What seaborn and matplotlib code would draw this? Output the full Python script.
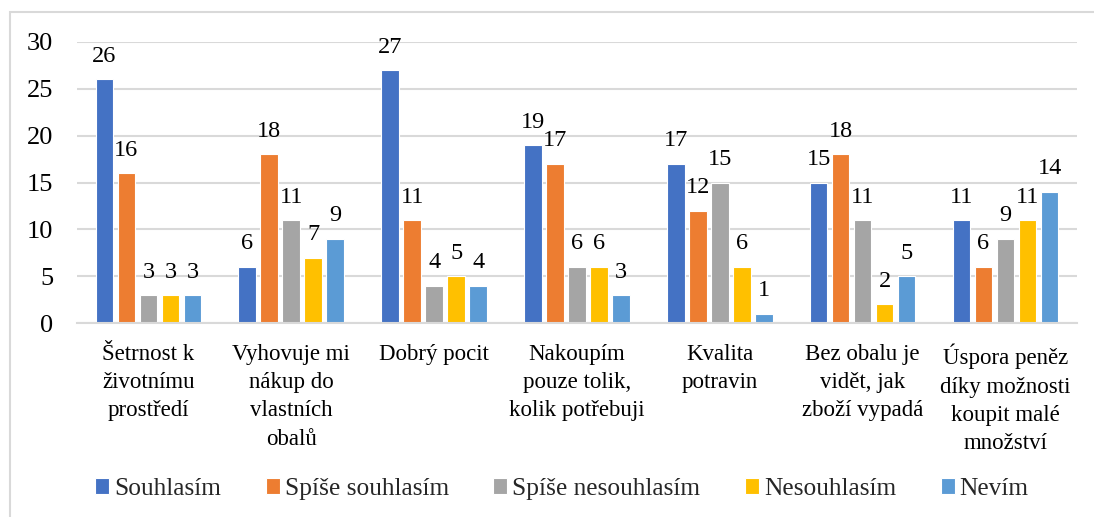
import pandas as pd
import matplotlib.pyplot as plt
import matplotlib.patches as mpatches
import seaborn as sns

# Data
categories = [
    "Šetrnost k\nživotnímu\nprostředí",
    "Vyhovuje mi\nnákup do\nvlastních\nobalů",
    "Dobrý pocit",
    "Nakoupím\npouze tolik,\nkolik potřebuji",
    "Kvalita\npotravin",
    "Bez obalu je\nvidět, jak\nzboží vypadá",
    "Úspora peněz\ndíky možnosti\nkoupit malé\nmnožství",
]
answers = ["Souhlasím", "Spíše souhlasím", "Spíše nesouhlasím", "Nesouhlasím", "Nevím"]
souhlasim = [26, 6, 27, 19, 17, 15, 11]
spise_souhlasim = [16, 18, 11, 17, 12, 18, 6]
spise_nesouhlasim = [3, 11, 4, 6, 15, 11, 9]
nesouhlasim = [3, 7, 5, 6, 6, 2, 11]
nevim = [3, 9, 4, 3, 1, 5, 14]
colors = ["#4472C4", "#ED7D31", "#A5A5A5", "#FFC000", "#5B9BD5"]

series = [souhlasim, spise_souhlasim, spise_nesouhlasim, nesouhlasim, nevim]
rows = []
for ans, vals in zip(answers, series):
    for cat, v in zip(categories, vals):
        rows.append({"kategorie": cat, "odpoved": ans, "pocet": v})
df = pd.DataFrame(rows)

sns.set_style("white")
plt.rcParams["font.family"] = ["Liberation Serif", "DejaVu Serif"]

fig = plt.figure(figsize=(10.94, 5.17), dpi=100)
ax = fig.add_axes([0.0704, 0.375, 0.914, 0.544])

sns.barplot(data=df, x="kategorie", y="pocet", hue="odpoved", order=categories,
            hue_order=answers, palette=colors, saturation=1, width=0.77, gap=0.2,
            edgecolor="white", linewidth=0.8, ax=ax, legend=True)

for cont in ax.containers:
    ax.bar_label(cont, padding=9, fontsize=17.5, color="#000000")

ax.set_ylim(0, 30)
ax.set_yticks(range(0, 31, 5))
ax.yaxis.grid(True, color="#D9D9D9", linewidth=1.5)
ax.set_axisbelow(True)
ax.set_xlabel("")
ax.set_ylabel("")
for s in ["top", "right", "left"]:
    ax.spines[s].set_visible(False)
ax.spines["bottom"].set_color("#D9D9D9")
ax.spines["bottom"].set_linewidth(1.5)
ax.tick_params(axis="both", length=0, colors="#000000")
ax.tick_params(axis="y", pad=17, labelsize=19)
ax.tick_params(axis="x", pad=15, labelsize=16.5)
for lab in ax.get_xticklabels():
    lab.set_linespacing(1.45)

handles, labels = ax.get_legend_handles_labels()
ax.legend(handles, labels, loc="center", bbox_to_anchor=(0.485, -0.59), ncol=5,
          frameon=False, fontsize=18.3, handlelength=0.55, handleheight=0.55,
          handletextpad=0.2, columnspacing=1.75, borderaxespad=0)

# light border around the chart area
fig.patches.append(mpatches.Rectangle((10 / 1094, -0.1), 1.2, 1 - 12 / 517 + 0.1,
                                      transform=fig.transFigure, fill=False,
                                      edgecolor="#D9D9D9", linewidth=1.5))

fig.savefig("out.png", dpi=100)
